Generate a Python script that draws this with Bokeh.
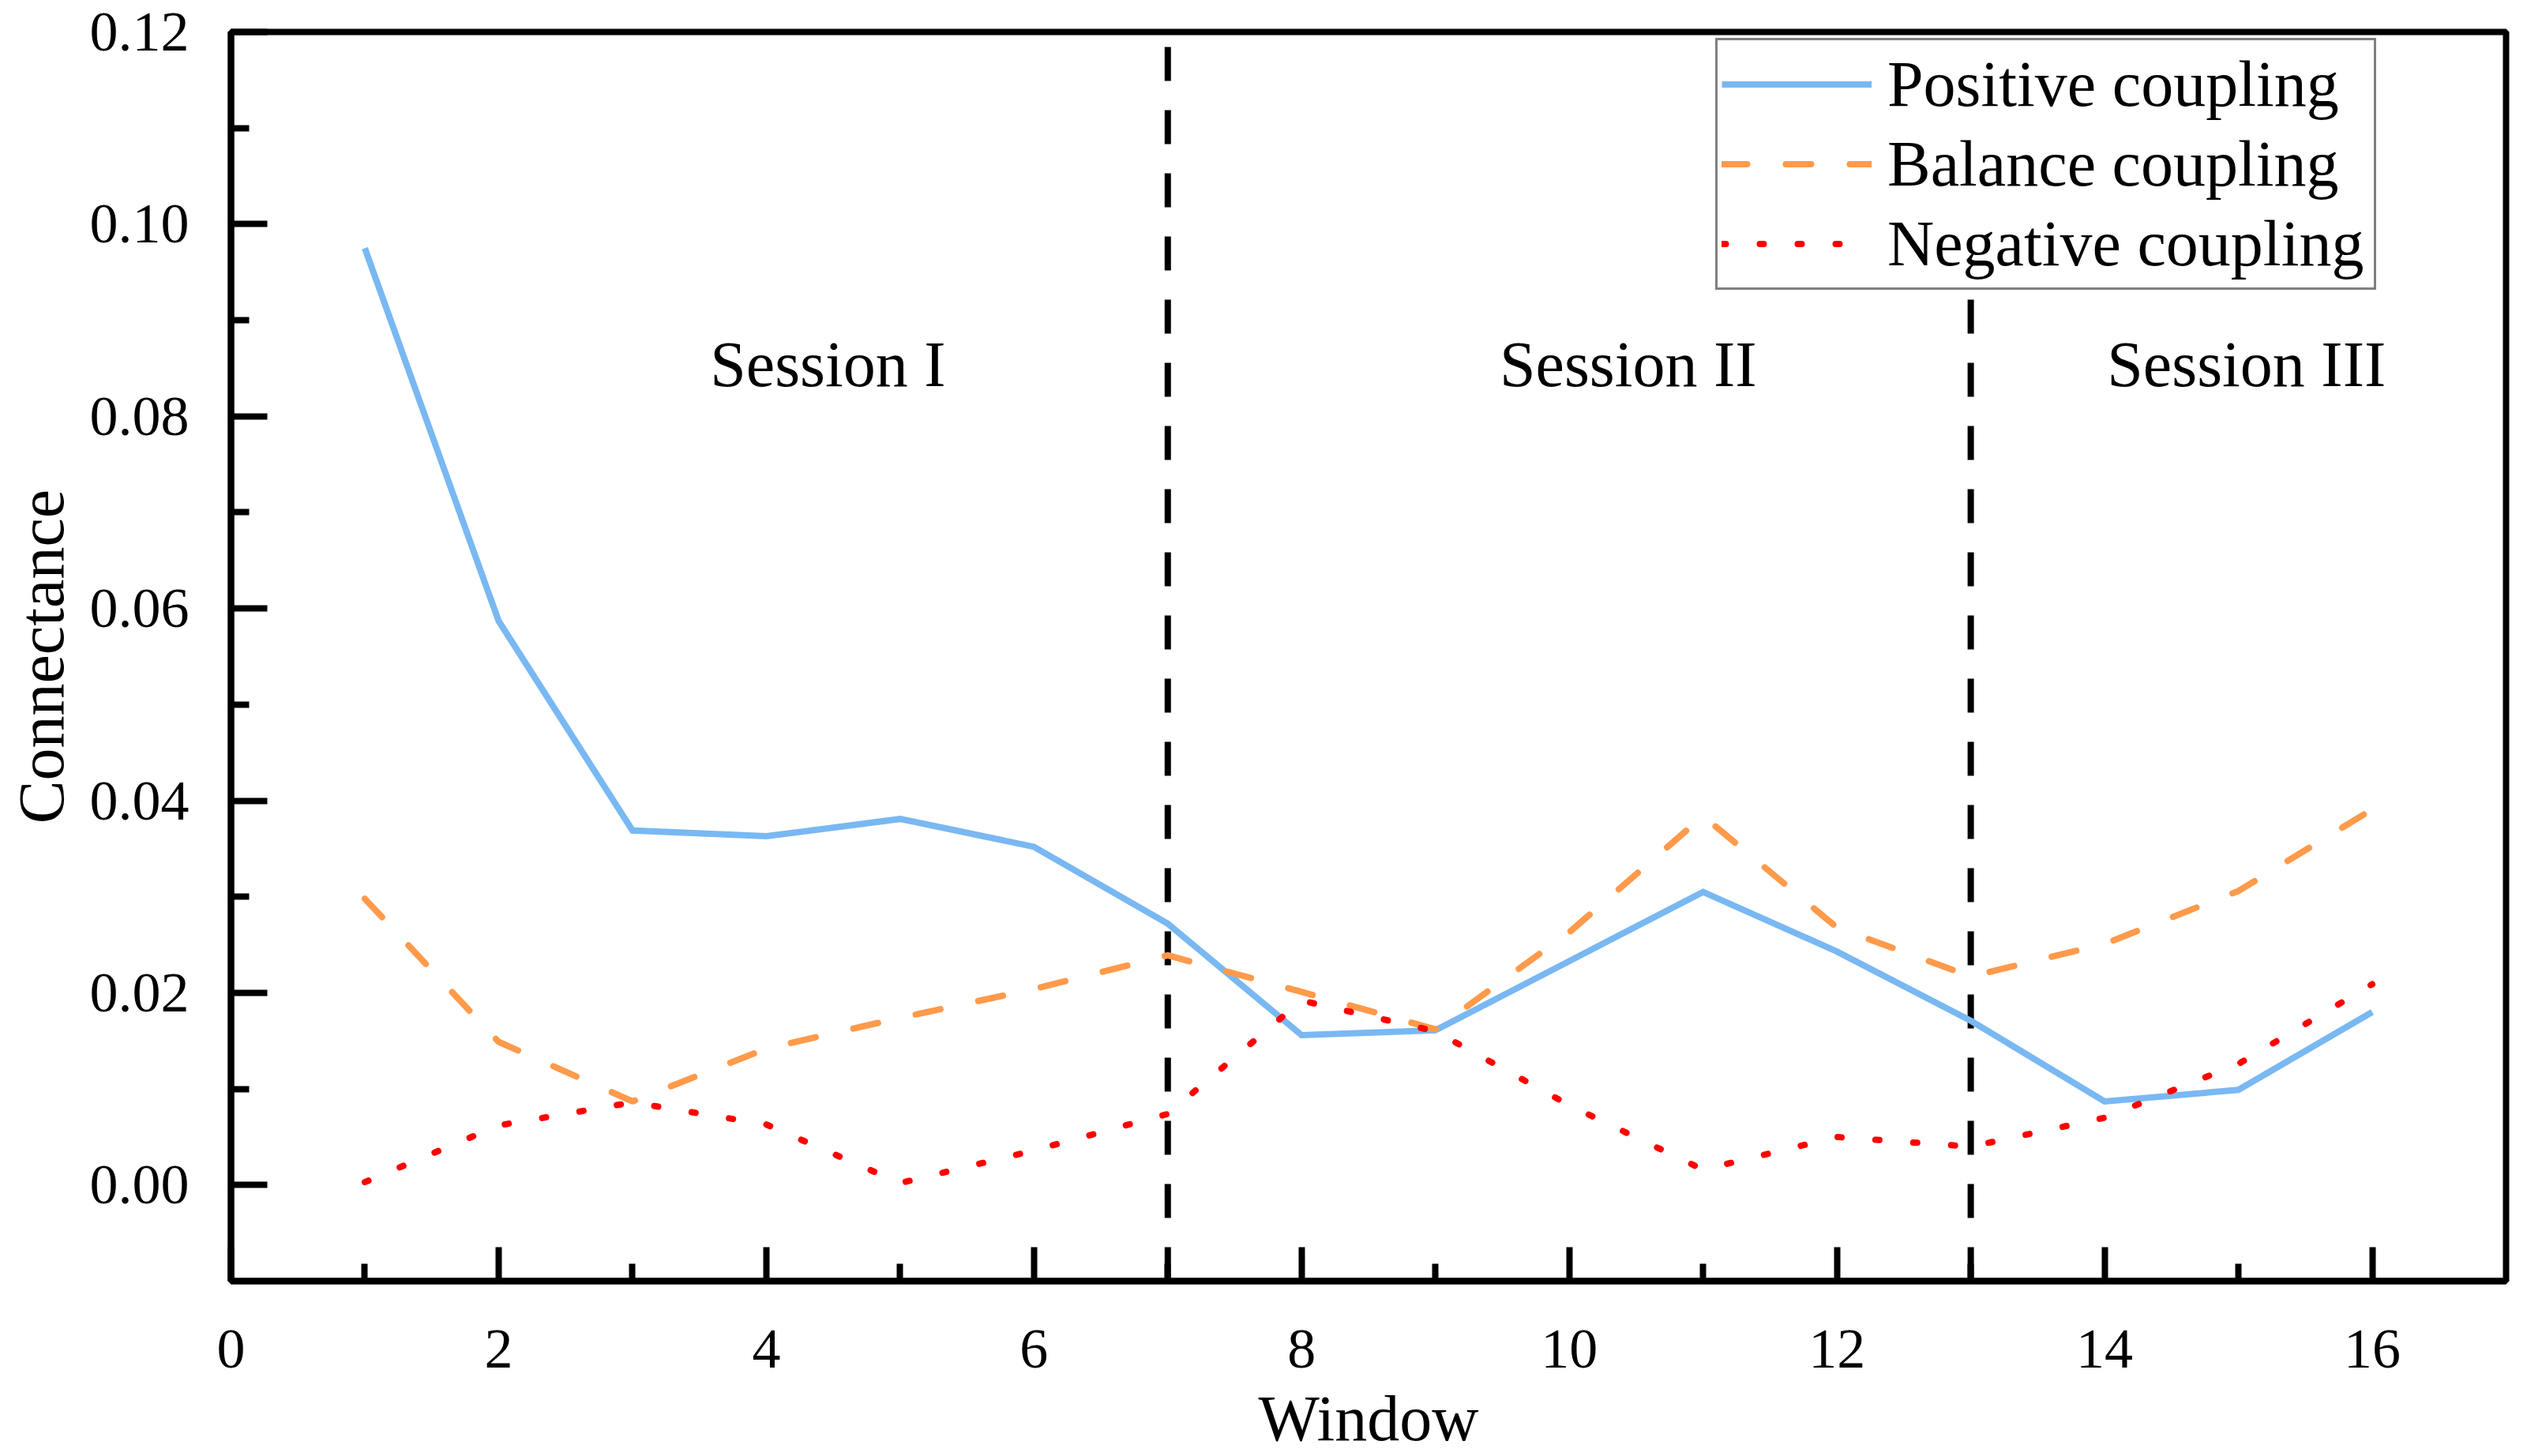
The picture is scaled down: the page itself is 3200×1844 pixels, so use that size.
from bokeh.plotting import figure
from bokeh.models import (FixedTicker, Range1d, Legend, LegendItem, Label,
                          NumeralTickFormatter)
from bokeh.embed import file_html
from bokeh.resources import INLINE

# ---------------- data ----------------
window = list(range(1, 17))
positive = [0.0975, 0.0587, 0.0369, 0.0363, 0.0381, 0.0352, 0.0272, 0.0156,
            0.0161, 0.0233, 0.0305, 0.0243, 0.0171, 0.0087, 0.0099, 0.0180]
balance = [0.0298, 0.0149, 0.0087, 0.0142, 0.0174, 0.0204, 0.0239, 0.0201,
           0.0162, 0.0263, 0.0384, 0.0268, 0.0217, 0.0251, 0.0306, 0.0391]
negative = [0.0003, 0.0062, 0.0086, 0.0063, 0.0002, 0.0036, 0.0074, 0.0192,
            0.0160, 0.0083, 0.0016, 0.0050, 0.0040, 0.0070, 0.0126, 0.0209]
series_names = ["Positive coupling", "Balance coupling", "Negative coupling"]

session_names = ["Session I", "Session II", "Session III"]
session_bounds = [7, 13]

x_ticks = [0, 2, 4, 6, 8, 10, 12, 14, 16]
x_tick_labels = ["0", "2", "4", "6", "8", "10", "12", "14", "16"]
x_minor = [1, 3, 5, 7, 9, 11, 13, 15]
y_ticks = [0.0, 0.02, 0.04, 0.06, 0.08, 0.10, 0.12]
y_tick_labels = ["0.00", "0.02", "0.04", "0.06", "0.08", "0.10", "0.12"]
y_minor = [0.01, 0.03, 0.05, 0.07, 0.09, 0.11]
x_label = "Window"
y_label = "Connectance"

# ---------------- style ----------------
FONT = "Liberation Serif"
X_START, X_END = 0, 17
Y_START, Y_END = -0.01, 0.12
W, H = 3200, 1844
BL, BR, BT, BB = 292, 27, 40, 221

p = figure(width=W, height=H,
           x_range=Range1d(X_START, X_END), y_range=Range1d(Y_START, Y_END),
           output_backend="svg", toolbar_location=None,
           min_border_left=BL, min_border_right=BR,
           min_border_top=BT, min_border_bottom=BB,
           background_fill_color="white", border_fill_color="white")
p.grid.visible = False
p.outline_line_color = "black"
p.outline_line_width = 8

# axes
p.xaxis.ticker = FixedTicker(ticks=x_ticks, minor_ticks=x_minor)
p.yaxis.ticker = FixedTicker(ticks=y_ticks, minor_ticks=y_minor)
p.yaxis.formatter = NumeralTickFormatter(format="0.00")
p.xaxis.major_label_overrides = dict(zip(x_ticks, x_tick_labels))
p.yaxis.major_label_overrides = dict(zip(y_ticks, y_tick_labels))
p.xaxis.axis_label = x_label
p.yaxis.axis_label = y_label

for ax in (p.xaxis, p.yaxis):
    ax.axis_line_width = 8
    ax.axis_line_color = "black"
    ax.major_tick_out = 0
    ax.minor_tick_out = 0
    ax.major_tick_line_width = 8
    ax.minor_tick_line_width = 8
    ax.major_tick_line_color = "black"
    ax.minor_tick_line_color = "black"
    ax.major_label_text_font = FONT
    ax.major_label_text_font_size = "72px"
    ax.major_label_text_color = "black"
    ax.axis_label_text_font = FONT
    ax.axis_label_text_font_size = "82px"
    ax.axis_label_text_font_style = "normal"
    ax.axis_label_text_color = "black"

p.yaxis.major_tick_in = 46
p.yaxis.minor_tick_in = 23
p.yaxis.major_label_standoff = 53
p.yaxis.axis_label_standoff = 13
p.xaxis.major_tick_in = 43
p.xaxis.minor_tick_in = 22
p.xaxis.major_label_standoff = 62
p.xaxis.axis_label_standoff = 16

# session boundaries (drawn bottom to top)
p.segment(x0=session_bounds, y0=[Y_START] * len(session_bounds),
          x1=session_bounds, y1=[Y_END] * len(session_bounds),
          line_color="black", line_width=8, line_dash="43 37")

# series
r_pos = p.line(window, positive, line_color="#79B8F2", line_width=8,
               line_join="miter")
r_bal = p.line(window, balance, line_color="#FF9A4B", line_width=8,
               line_dash="32 49", line_cap="round")
r_neg = p.line(window, negative, line_color="#FF0000", line_width=8,
               line_dash="5 43", line_cap="round")

# session labels
session_x = [4.46, 10.44, 15.06]
for name, sx in zip(session_names, session_x):
    p.add_layout(Label(x=sx, y=0.0854, text=name, text_align="center",
                       text_baseline="middle", text_font=FONT,
                       text_font_size="82px", text_color="black"))

legend = Legend(items=[LegendItem(label=n, renderers=[r])
                       for n, r in zip(series_names, [r_pos, r_bal, r_neg])],
                location=(1880, 1255), margin=0, padding=5, spacing=0,
                glyph_width=190, glyph_height=101, label_height=101,
                label_width=611, label_standoff=20,
                label_text_font=FONT, label_text_font_size="82px",
                label_text_color="black",
                border_line_color="black", border_line_width=3,
                background_fill_color="white", background_fill_alpha=1.0)
p.add_layout(legend)

open("out.html", "w").write(file_html(p, INLINE))
